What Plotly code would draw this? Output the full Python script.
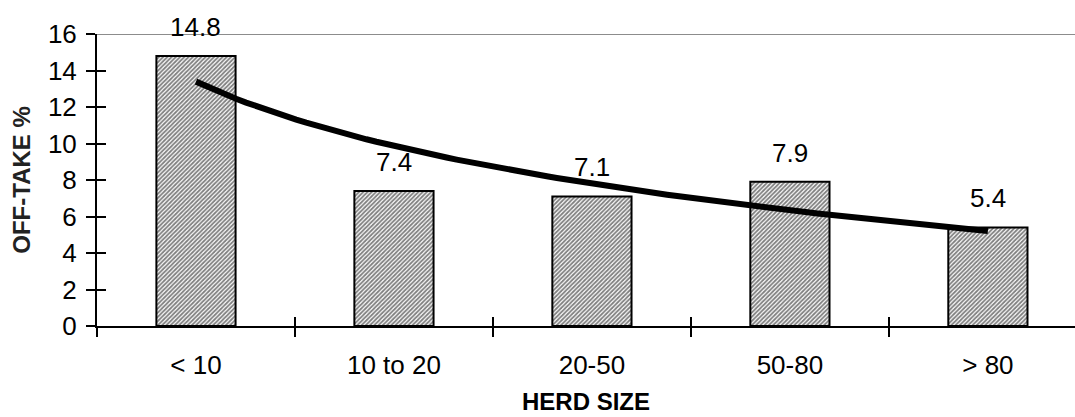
import numpy as np
import plotly.graph_objects as go

categories = ["< 10", "10 to 20", "20-50", "50-80", "> 80"]
offtake = [14.8, 7.4, 7.1, 7.9, 5.4]
y_ticks = [0, 2, 4, 6, 8, 10, 12, 14, 16]
x_title = "HERD SIZE"
y_title = "OFF-TAKE %"

Y_MAX = 16
X_RANGE = [-0.5, 4.44]
FONT = "Liberation Sans, Arial, sans-serif"

# logarithmic trendline fitted to the bar values (as in the original chart)
idx = np.arange(1, len(offtake) + 1)
b, a = np.polyfit(np.log(idx), np.array(offtake), 1)
t = np.linspace(1, len(offtake), 80)
trend = a + b * np.log(t)

fig = go.Figure()
fig.add_trace(go.Bar(
    x=categories, y=offtake,
    marker=dict(color="#808080",
                line=dict(color="black", width=2),
                pattern=dict(shape="/", size=3, solidity=0.6,
                             fgcolor="black", bgcolor="white")),
    width=0.4, showlegend=False, hoverinfo="skip"))
fig.add_trace(go.Scatter(
    x=t - 1, y=trend, mode="lines", xaxis="x2", yaxis="y2",
    line=dict(color="black", width=6), showlegend=False, hoverinfo="skip"))

for c, v in zip(categories, offtake):
    fig.add_annotation(x=c, y=v, text=f"{v:.1f}", showarrow=False,
                       yanchor="bottom", yshift=12,
                       font=dict(family=FONT, size=26, color="black"))

fig.add_annotation(xref="paper", yref="paper", x=0.5, y=-0.257,
                   text=f"<b>{x_title}</b>", showarrow=False,
                   xanchor="center", yanchor="middle",
                   font=dict(family=FONT, size=24, color="black"))
fig.add_annotation(xref="paper", yref="paper", x=-0.078, y=0.5,
                   text=f"<b>{y_title}</b>", showarrow=False, textangle=-90,
                   xanchor="center", yanchor="middle",
                   font=dict(family=FONT, size=24, color="#222222"))

fig.add_shape(type="line", xref="paper", yref="y", x0=0, x1=1,
              y0=Y_MAX, y1=Y_MAX, line=dict(color="#8c8c8c", width=2),
              layer="below")

fig.update_layout(
    width=1075, height=417,
    margin=dict(l=97, r=0, t=34, b=91),
    plot_bgcolor="white", paper_bgcolor="white",
    font=dict(family=FONT, size=26, color="black"),
    xaxis=dict(type="category", range=X_RANGE, tickson="boundaries",
               ticks="outside", ticklen=9, tickwidth=2, tickcolor="black",
               showline=True, linecolor="black", linewidth=2,
               showgrid=False, zeroline=False, ticklabelstandoff=15,
               tickfont=dict(family=FONT, size=26, color="black")),
    yaxis=dict(range=[0, Y_MAX], tickvals=y_ticks, ticks="outside",
               ticklen=9, tickwidth=2, tickcolor="black",
               showline=True, linecolor="black", linewidth=2,
               showgrid=False, zeroline=False, ticklabelstandoff=4,
               tickfont=dict(family=FONT, size=26, color="black")),
    xaxis2=dict(overlaying="x", anchor="y2", side="bottom", type="linear",
                range=X_RANGE, tickvals=[-0.5, 0.5, 1.5, 2.5, 3.5],
                ticks="inside", ticklen=9, tickwidth=2, tickcolor="black",
                showticklabels=False, showgrid=False, zeroline=False,
                showline=False),
    yaxis2=dict(overlaying="y", anchor="x2", side="left",
                range=[0, Y_MAX], tickvals=y_ticks, ticks="inside",
                ticklen=9, tickwidth=2, tickcolor="black",
                showticklabels=False, showgrid=False, zeroline=False,
                showline=False),
)

fig.write_html("out.html", config={"displayModeBar": False},
               post_script="document.body.style.margin='0';"
                           "document.body.style.padding='0';")
